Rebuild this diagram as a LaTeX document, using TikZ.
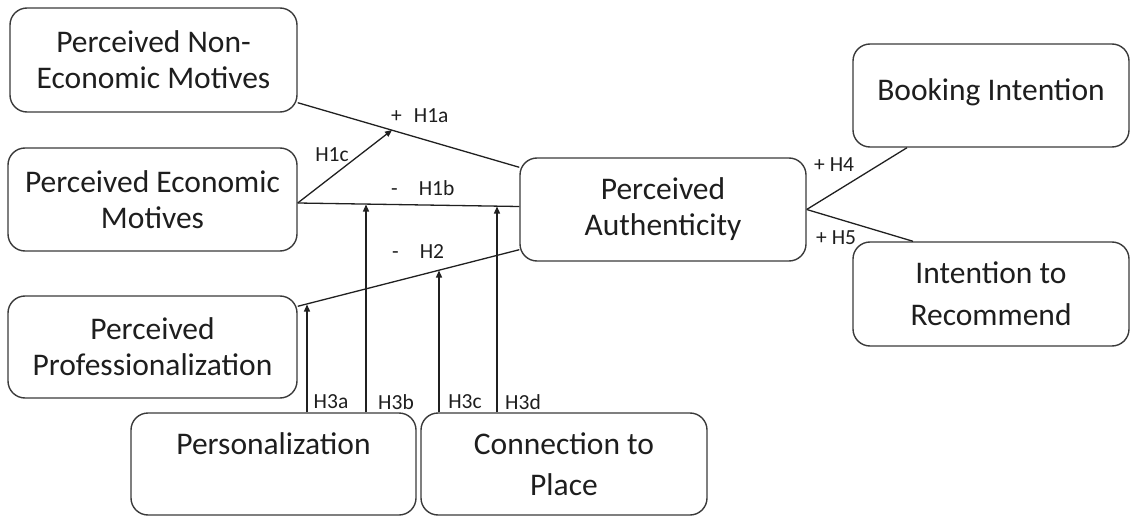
\documentclass[tikz,border=0pt]{standalone}
\usepackage{fontspec}
\setmainfont{Carlito}
\usetikzlibrary{arrows.meta,calc}
\definecolor{boxc}{HTML}{3A3A3A}
\definecolor{txtc}{HTML}{1E1E1E}
\definecolor{linec}{HTML}{202020}
\begin{document}
\begin{tikzpicture}[x=1pt,y=-1pt,
  box/.style={draw=boxc, line width=1.4pt, rounded corners=17pt, align=center,
    font=\fontsize{31.5}{36}\selectfont, text=txtc, inner sep=0pt},
  conn/.style={line width=1.3pt, draw=linec},
  arr/.style={conn, -{Triangle[length=7pt,width=6pt]}},
  lab/.style={font=\fontsize{21.5}{24}\selectfont, text=txtc, inner sep=0pt}]
\useasboundingbox (0,0) rectangle (1130,516);

% boxes
\node[box, minimum width=287pt, minimum height=104pt] (ne) at (153.5,60) {Perceived Non-\\Economic Motives};
\node[box, minimum width=289pt, minimum height=103pt] (pe) at (152.5,199.5) {Perceived Economic\\Motives};
\node[box, minimum width=289pt, minimum height=102pt] (pp) at (152.5,347) {Perceived\\Professionalization};
\node[box, minimum width=286pt, minimum height=103pt] (pa) at (663,209.5) {Perceived\\Authenticity};
\node[box, minimum width=276pt, minimum height=103pt] (bi) at (991,95.5) {\raisebox{12pt}{Booking Intention}};
\node[box, minimum width=276pt, minimum height=104pt] (ir) at (991,294) {Intention to\\[6pt]Recommend};
\node[box, minimum width=285pt, minimum height=102pt] (pz) at (273.5,464) {Personalization\\[5pt]\mbox{}};
\node[box, minimum width=286pt, minimum height=102pt] (cp) at (564,464) {Connection to\\[5pt]Place};

% arrow end points
\coordinate (t1c) at (392,130);
\coordinate (t3a) at (307,304.5);
\coordinate (t3b) at (366,204.5);
\coordinate (t3c) at (439,270.5);
\coordinate (t3d) at (497,206.5);

% connectors
\draw[conn] ([yshift=10pt]ne.south east) -- ([yshift=-10pt]pa.north west);
\draw[arr] ([yshift=-3.5pt]pe.east) -- (t1c);
\draw[conn] ([yshift=-3.5pt]pe.east) -- ([yshift=3pt]pa.west);
\draw[conn] ([yshift=-11pt]pp.north east) -- ([yshift=12pt]pa.south west);
\draw[arr] ([xshift=33.5pt]pz.north) -- (t3a);
\draw[arr] ([xshift=92.5pt]pz.north) -- (t3b);
\draw[arr] ([xshift=-125pt]cp.north) -- (t3c);
\draw[arr] ([xshift=-67pt]cp.north) -- (t3d);
\draw[conn] (pa.east) -- ([xshift=-84pt]bi.south);
\draw[conn] (pa.east) -- ([xshift=-78pt]ir.north);

% labels
\node[lab, anchor=west] (l1a) at (391,116) {+\hspace{12pt}H1a};
\node[lab] (l1c) at (332,155) {H1c};
\node[lab, anchor=west] (l1b) at (391,188) {-\hspace{21pt}H1b};
\node[lab, anchor=west] (l2) at (392,252) {-\hspace{21pt}H2};
\node[lab] (l3a) at (331,402) {H3a};
\node[lab] (l3b) at (396,402) {H3b};
\node[lab] (l3c) at (465,402) {H3c};
\node[lab] (l3d) at (523,402) {H3d};
\node[lab, anchor=west] (l4) at (814,165) {+ H4};
\node[lab, anchor=west] (l5) at (816,238) {+ H5};
\end{tikzpicture}
\end{document}
